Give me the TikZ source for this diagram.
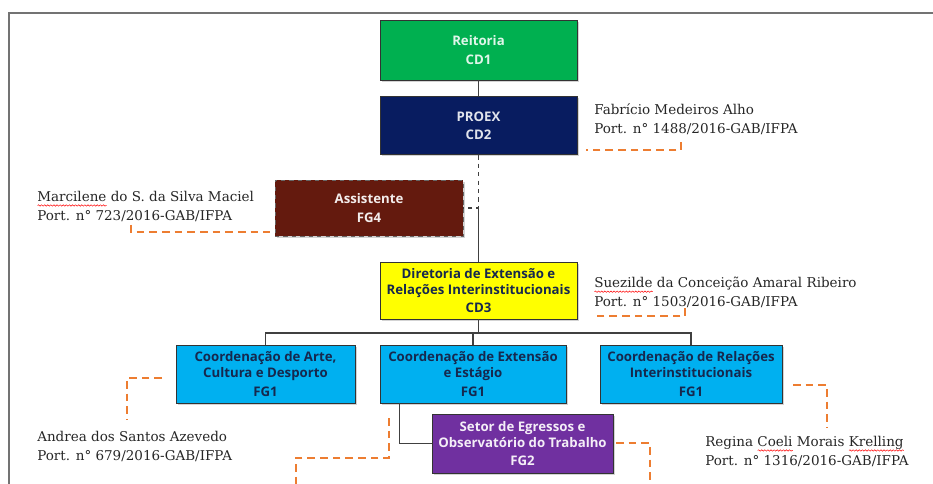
\documentclass[tikz,border=0pt]{standalone}
\usepackage{fontspec}
\setmainfont{DejaVu Serif}
\newfontfamily\orgsans{Open Sans}
\usepackage{tikz}
\usetikzlibrary{positioning, shadows, decorations.pathmorphing}
\definecolor{reitgreen}{RGB}{0, 176, 80}
\definecolor{proexblue}{RGB}{8, 28, 96}
\definecolor{assistred}{RGB}{100, 26, 14}
\definecolor{diryellow}{RGB}{255, 255, 0}
\definecolor{coordcyan}{RGB}{0, 176, 240}
\definecolor{setorpurple}{RGB}{112, 48, 160}
\definecolor{coordtext}{RGB}{22, 40, 78}
\definecolor{linkorange}{RGB}{237, 125, 49}
\newlength\wavewd
\newcommand\spellwave[1]{\settowidth\wavewd{#1}\rlap{\tikz[baseline=0pt]\draw[red, line width=0.35pt, decorate, decoration={snake, amplitude=0.5pt, segment length=2.2pt}] (0pt,-2.8pt) -- (\wavewd,-2.8pt);}#1}
\tikzset{
  orgbox/.style={
    rectangle, draw=black!80, line width=0.6pt,
    font=\orgsans\bfseries\fontsize{9.4}{11.3}\selectfont,
    align=center, inner sep=2pt,
    drop shadow={shadow xshift=0.04cm, shadow yshift=-0.04cm, opacity=0.35}
  },
  cdbox/.style={orgbox, minimum width=4.925cm},
  coordbox/.style={orgbox, fill=coordcyan, text=coordtext, minimum height=1.45cm},
  person/.style={
    font=\fontsize{9.6}{13.5}\selectfont, text=black!85,
    align=left, inner sep=0pt, anchor=north west
  },
  orgline/.style={draw=black!75, line width=0.8pt},
  namelink/.style={draw=linkorange, line width=1.3pt, dash pattern=on 5.5pt off 3.5pt},
  frame/.style={draw=black!55, line width=1.5pt}
}

\begin{document}
\begin{tikzpicture}[x=0.025cm, y=-0.025cm]

  \useasboundingbox (0,0) rectangle (933,484);
  \draw[frame] (933,13) -- (9,13) -- (9,484);

  % --- Direcao ---
  \node[cdbox, fill=reitgreen, text=white!88!reitgreen, minimum height=1.5cm] (reitoria) at (478.5,50) {Reitoria\\[2pt]CD1};
  \node[cdbox, fill=proexblue, text=white!88!proexblue, minimum height=1.45cm, below=0.4cm of reitoria] (proex) {PROEX\\[2pt]CD2};
  \node[orgbox, fill=assistred, text=white!92!assistred, draw=black!60, dashed, minimum width=4.7cm, minimum height=1.4cm] (assist) at (369,208) {Assistente\\[2pt]FG4};
  \node[cdbox, fill=diryellow, text=coordtext, minimum height=1.425cm] (diretoria) at (478.5,290.5) {Diretoria de Extensão e\\Relações Interinstitucionais\\[1pt]CD3};

  % --- Coordenacoes ---
  \node[coordbox, minimum width=4.475cm] (arte) at (265.5,374) {Coordenação de Arte,\\Cultura e Desporto\\[2pt]FG1};
  \node[coordbox, minimum width=4.65cm] (extensao) at (473,374) {Coordenação de Extensão\\e Estágio\\[2pt]FG1};
  \node[coordbox, minimum width=4.55cm] (relacoes) at (691,374) {Coordenação de Relações\\Interinstitucionais\\[2pt]FG1};
  \node[orgbox, fill=setorpurple, text=white!92!setorpurple, minimum width=4.525cm, minimum height=1.475cm] (setor) at (522.5,443.5) {Setor de Egressos e\\Observatório do Trabalho\\[2pt]FG2};

  % --- Responsaveis ---
  \node[person] (fabricio) at (594,103) {Fabrício Medeiros Alho\\Port. n° 1488/2016-GAB/IFPA};
  \node[person] (marcilene) at (37,191) {\spellwave{Marcilene} do S. da Silva Maciel\\Port. n° 723/2016-GAB/IFPA};
  \node[person] (suezilde) at (594,277) {\spellwave{Suezilde} da Conceição Amaral Ribeiro\\Port. n° 1503/2016-GAB/IFPA};
  \node[person] (andrea) at (37,431) {Andrea dos Santos Azevedo\\Port. n° 679/2016-GAB/IFPA};
  \node[person] (regina) at (705,436) {Regina \spellwave{Coeli} Morais \spellwave{Krelling}\\Port. n° 1316/2016-GAB/IFPA};

  % --- Ligacoes entre caixas ---
  \coordinate (assistjct) at (proex.south |- assist.east);
  \coordinate (bus) at (478.5,333);
  \draw[orgline] (reitoria) -- (proex);
  \draw[orgline, dashed] (proex.south) -- (assistjct) -- (assist.east);
  \draw[orgline] (assistjct) -- (diretoria.north);
  \draw[orgline] (diretoria.south) -- (diretoria.south |- bus);
  \draw[orgline] (arte.north) -- (arte.north |- bus) -- (relacoes.north |- bus) -- (relacoes.north);
  \draw[orgline] (extensao.north) -- (extensao.north |- bus);
  \draw[orgline] ([xshift=0.5cm]extensao.south west) |- (setor.west);

  % --- Tracejados dos nomes ---
  \coordinate (fabA) at (681,142);
  \coordinate (fabB) at (586,150);
  \coordinate (marA) at (131,225);
  \coordinate (marB) at (270,232);
  \coordinate (sueA) at (685,308);
  \coordinate (sueB) at (592,316);
  \coordinate (andA) at (162,378);
  \coordinate (andB) at (127,420);
  \coordinate (extA) at (389,418);
  \coordinate (extM) at (296,458);
  \coordinate (extB) at (296,484);
  \coordinate (setA) at (616,443);
  \coordinate (setB) at (650,484);
  \coordinate (relA) at (793,385);
  \coordinate (relB) at (827,427);
  \draw[namelink] (fabA) |- (fabB);
  \draw[namelink] (marA) |- (marB);
  \draw[namelink] (sueA) |- (sueB);
  \draw[namelink] (andA) -| (andB);
  \draw[namelink] (extA) |- (extM) -- (extB);
  \draw[namelink] (setA) -| (setB);
  \draw[namelink] (relA) -| (relB);

\end{tikzpicture}
\end{document}
